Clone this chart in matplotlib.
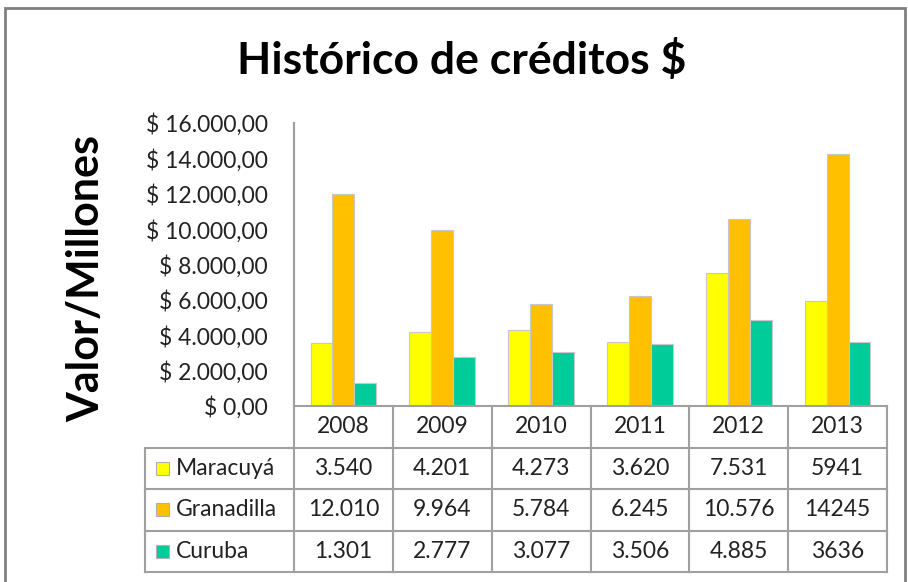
import matplotlib.pyplot as plt
from matplotlib.patches import Rectangle
from matplotlib.lines import Line2D
import numpy as np

plt.rcParams["font.family"] = ["Lato", "DejaVu Sans"]

# Data
years = ["2008", "2009", "2010", "2011", "2012", "2013"]
series_names = ["Maracuyá", "Granadilla", "Curuba"]
maracuya = [3540, 4201, 4273, 3620, 7531, 5941]
granadilla = [12010, 9964, 5784, 6245, 10576, 14245]
curuba = [1301, 2777, 3077, 3506, 4885, 3636]
# table text exactly as printed in the source
maracuya_txt = ["3.540", "4.201", "4.273", "3.620", "7.531", "5941"]
granadilla_txt = ["12.010", "9.964", "5.784", "6.245", "10.576", "14245"]
curuba_txt = ["1.301", "2.777", "3.077", "3.506", "4.885", "3636"]
y_ticks = [0, 2000, 4000, 6000, 8000, 10000, 12000, 14000, 16000]

colors = ["#FFFF00", "#FFC000", "#00CC99"]
grid_col = "#A0A0A0"

W, H = 908, 582
fig = plt.figure(figsize=(W / 100, H / 100), dpi=100)


def fx(x):
    return x / W


def fy(y):
    return 1 - y / H


# plot area in pixels
L, R, T, B = 294, 887, 123, 406
ax = fig.add_axes([fx(L), fy(B), fx(R) - fx(L), fy(T) - fy(B)])

x = np.arange(len(years))
bw = 0.222
for i, vals in enumerate([maracuya, granadilla, curuba]):
    ax.bar(x + (i - 1) * bw, vals, bw, color=colors[i], edgecolor="#C8C8C8", linewidth=0.8)

ax.set_xlim(-0.5, len(years) - 0.5)
ax.set_ylim(0, 16000)
ax.set_yticks(y_ticks)
ax.set_yticklabels(["$ " + f"{v:,.2f}".replace(",", "X").replace(".", ",").replace("X", ".") for v in y_ticks],
                   fontsize=16.5, color="#222222")
ax.tick_params(axis="y", length=0, pad=19)
ax.set_xticks([])
for s in ["top", "right", "bottom"]:
    ax.spines[s].set_visible(False)
ax.spines["left"].set_color(grid_col)
ax.spines["left"].set_linewidth(1.5)

# Title and y label
fig.text(fx(462), fy(60), "Histórico de créditos $", fontsize=32, fontweight="bold",
         ha="center", va="center")
fig.text(fx(86), fy(278), "Valor/Millones", fontsize=31, fontweight="bold",
         rotation=90, ha="center", va="center")

# Data table
row_h = 41.5
col_edges = [L + i * (R - L) / len(years) for i in range(len(years) + 1)]
rows_y = [B + i * row_h for i in range(5)]  # header top..bottom
leg_left = 145

def hline(x0, x1, y):
    fig.add_artist(Line2D([fx(x0), fx(x1)], [fy(y), fy(y)], color=grid_col, lw=1.5))


def vline(xx, y0, y1):
    fig.add_artist(Line2D([fx(xx), fx(xx)], [fy(y0), fy(y1)], color=grid_col, lw=1.5))


hline(L, R, rows_y[0])
for y in rows_y[1:]:
    hline(leg_left, R, y)
vline(L, T, rows_y[-1])
for cx in col_edges[1:]:
    vline(cx, rows_y[0], rows_y[-1])
vline(leg_left, rows_y[1], rows_y[-1])

for j, yr in enumerate(years):
    cx = (col_edges[j] + col_edges[j + 1]) / 2
    fig.text(fx(cx), fy((rows_y[0] + rows_y[1]) / 2), yr, fontsize=16.5,
             ha="center", va="center", color="#222222")

for i, (name, txts) in enumerate(zip(series_names, [maracuya_txt, granadilla_txt, curuba_txt])):
    cy = (rows_y[i + 1] + rows_y[i + 2]) / 2
    fig.add_artist(Rectangle((fx(156), fy(cy + 6.5)), fx(13), 13 / H, facecolor=colors[i],
                             edgecolor="#B0B0B0", lw=0.8))
    fig.text(fx(176), fy(cy), name, fontsize=16.5, ha="left", va="center", color="#222222")
    for j, t in enumerate(txts):
        cx = (col_edges[j] + col_edges[j + 1]) / 2
        fig.text(fx(cx), fy(cy), t, fontsize=16.5, ha="center", va="center", color="#222222")

# chart border
fig.add_artist(Rectangle((fx(5), fy(600)), fx(900), 592 / H, fill=False,
                         edgecolor="#808080", lw=2))

fig.savefig("out.png", dpi=100)
